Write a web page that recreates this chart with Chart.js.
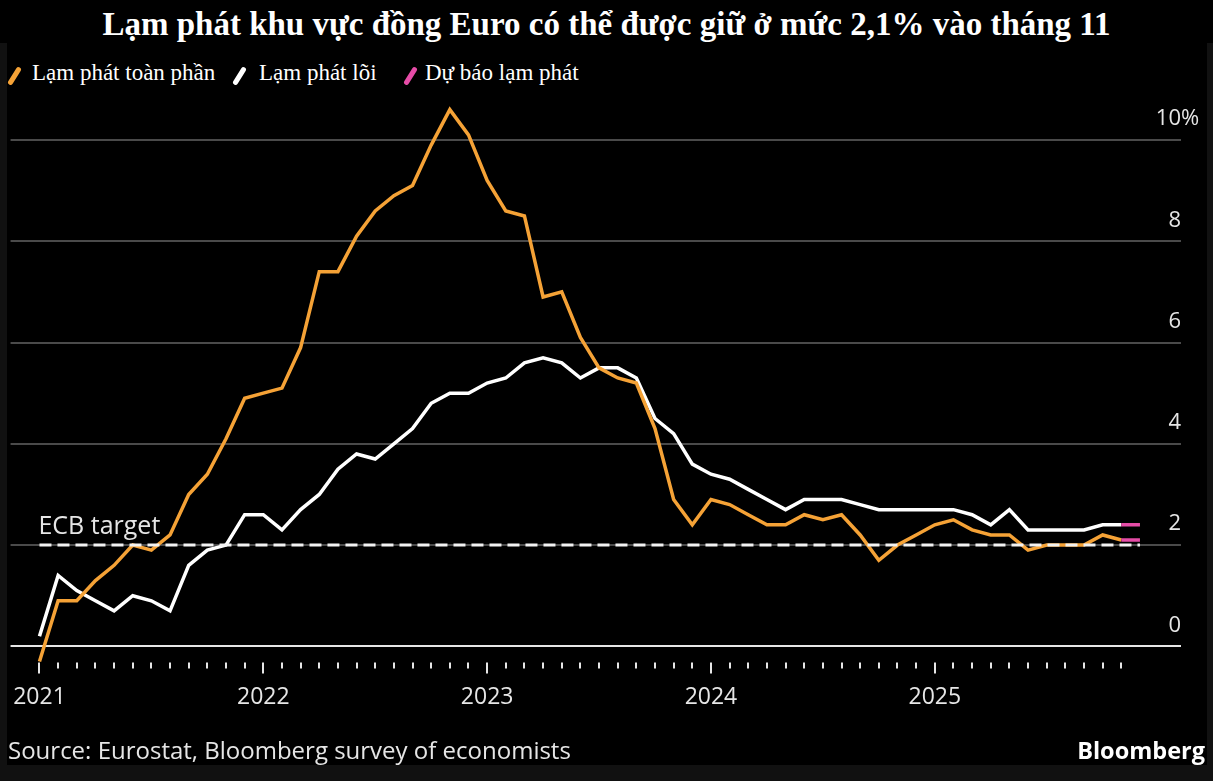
<!DOCTYPE html>
<html>
<head>
<meta charset="utf-8">
<script src="https://cdn.jsdelivr.net/npm/chart.js@4"></script>
<style>
  html, body { margin: 0; padding: 0; }
  body { width: 1213px; height: 781px; background: #111; position: relative; overflow: hidden; }
  #topband { position: absolute; left: 0; top: 0; width: 1213px; height: 43px; background: #000; }
  #panel { position: absolute; left: 7px; top: 43px; width: 1200px; height: 722px; background: #000; }
  #title { position: absolute; left: 0; top: 5px; width: 1213px; margin: 0; text-align: center;
           font: bold 33px/38px "Liberation Serif", serif; color: #fff; }
  .leg { position: absolute; top: 60px; font: 23px/26px "Liberation Serif", serif; color: #fff; white-space: nowrap; }
  .icon { position: absolute; top: 66px; width: 5px; height: 20px; border-radius: 3px; transform: rotate(32deg); }
  #chart { position: absolute; left: 0; top: 0; }
  #source { position: absolute; left: 8px; top: 735px; font: 24px/30px "Open Sans", sans-serif; color: #e6e6e6; }
  #brand { position: absolute; right: 8px; top: 735px; font: bold 23.5px/30px "Open Sans", sans-serif; color: #fff; }
</style>
</head>
<body>
<div id="topband"></div>
<div id="panel"></div>
<h1 id="title">Lạm phát khu vực đồng Euro có thể được giữ ở mức 2,1% vào tháng 11</h1>
<span class="icon" style="left:12px;background:#f5a236"></span>
<span class="leg" style="left:32px">Lạm phát toàn phần</span>
<span class="icon" style="left:237px;background:#fff"></span>
<span class="leg" style="left:259px">Lạm phát lõi</span>
<span class="icon" style="left:408px;background:#e64ca7"></span>
<span class="leg" style="left:425px">Dự báo lạm phát</span>
<canvas id="chart" width="1213" height="781"></canvas>
<div id="source">Source: Eurostat, Bloomberg survey of economists</div>
<div id="brand">Bloomberg</div>

<script>
// monthly points, plotted at month end (Dec 2020 sits on the 2021 tick)
const months = [
  '2020-12',
  '2021-01','2021-02','2021-03','2021-04','2021-05','2021-06','2021-07','2021-08','2021-09','2021-10','2021-11','2021-12',
  '2022-01','2022-02','2022-03','2022-04','2022-05','2022-06','2022-07','2022-08','2022-09','2022-10','2022-11','2022-12',
  '2023-01','2023-02','2023-03','2023-04','2023-05','2023-06','2023-07','2023-08','2023-09','2023-10','2023-11','2023-12',
  '2024-01','2024-02','2024-03','2024-04','2024-05','2024-06','2024-07','2024-08','2024-09','2024-10','2024-11','2024-12',
  '2025-01','2025-02','2025-03','2025-04','2025-05','2025-06','2025-07','2025-08','2025-09','2025-10','2025-11'
];

const headline = [
  -0.3,
  0.9, 0.9, 1.3, 1.6, 2.0, 1.9, 2.2, 3.0, 3.4, 4.1, 4.9, 5.0,
  5.1, 5.9, 7.4, 7.4, 8.1, 8.6, 8.9, 9.1, 9.9, 10.6, 10.1, 9.2,
  8.6, 8.5, 6.9, 7.0, 6.1, 5.5, 5.3, 5.2, 4.3, 2.9, 2.4, 2.9,
  2.8, 2.6, 2.4, 2.4, 2.6, 2.5, 2.6, 2.2, 1.7, 2.0, 2.2, 2.4,
  2.5, 2.3, 2.2, 2.2, 1.9, 2.0, 2.0, 2.0, 2.2, 2.1
];

const core = [
  0.2,
  1.4, 1.1, 0.9, 0.7, 1.0, 0.9, 0.7, 1.6, 1.9, 2.0, 2.6, 2.6,
  2.3, 2.7, 3.0, 3.5, 3.8, 3.7, 4.0, 4.3, 4.8, 5.0, 5.0, 5.2,
  5.3, 5.6, 5.7, 5.6, 5.3, 5.5, 5.5, 5.3, 4.5, 4.2, 3.6, 3.4,
  3.3, 3.1, 2.9, 2.7, 2.9, 2.9, 2.9, 2.8, 2.7, 2.7, 2.7, 2.7,
  2.7, 2.6, 2.4, 2.7, 2.3, 2.3, 2.3, 2.3, 2.4, 2.4
];

// forecast: last actual month -> November
const forecastMonths = ['2025-10', '2025-11'];
const headlineForecast = [2.1, 2.1];
const coreForecast = [2.4, 2.4];

const ecbTarget = 2.0;
const yTicks = [0, 2, 4, 6, 8, 10];
const yearLabels = ['2021', '2022', '2023', '2024', '2025'];

const ORANGE = '#f5a236';
const PINK = '#e64ca7';

function series(vals, names) {
  return vals.map((v, i) => ({ x: months.indexOf(names ? names[i] : months[i]), y: v }));
}

// year label sits where the previous December point is
const yearPos = yearLabels.map(y => months.indexOf((+y - 1) + '-12'));

const extras = {
  id: 'extras',
  afterDraw(chart) {
    const { ctx, chartArea, scales: { x, y } } = chart;
    ctx.save();
    // month tick marks, longer on year starts
    ctx.strokeStyle = '#e6e6e6';
    ctx.lineWidth = 2;
    for (let i = 0; i < headline.length; i++) {
      const px = Math.round(x.getPixelForValue(i));
      const len = yearPos.includes(i) ? 11 : 6;
      ctx.beginPath();
      ctx.moveTo(px, chartArea.bottom);
      ctx.lineTo(px, chartArea.bottom + len);
      ctx.stroke();
    }
    // '%' after the top tick label
    ctx.fillStyle = '#e6e6e6';
    ctx.font = '22px "Open Sans"';
    ctx.textBaseline = 'middle';
    ctx.textAlign = 'left';
    ctx.fillText('%', chartArea.right, y.getPixelForValue(10) - 21);
    // ECB target label
    ctx.font = '25px "Open Sans"';
    ctx.fillText('ECB target', x.getPixelForValue(0) - 1, y.getPixelForValue(ecbTarget) - 18);
    ctx.restore();
  }
};

new Chart(document.getElementById('chart'), {
  type: 'line',
  data: {
    datasets: [
      {
        label: 'ECB target',
        data: [{ x: 0, y: ecbTarget }, { x: months.length - 1, y: ecbTarget }],
        borderColor: '#f2f2f2',
        borderWidth: 3,
        borderDash: [12, 6]
      },
      { label: 'Dự báo lạm phát', data: series(coreForecast, forecastMonths), borderColor: PINK, borderWidth: 3.5 },
      { label: 'Dự báo lạm phát', data: series(headlineForecast, forecastMonths), borderColor: PINK, borderWidth: 3.5 },
      { label: 'Lạm phát toàn phần', data: series(headline), borderColor: ORANGE, borderWidth: 3.5 },
      { label: 'Lạm phát lõi', data: series(core), borderColor: '#ffffff', borderWidth: 3.5 }
    ]
  },
  options: {
    responsive: false,
    animation: false,
    devicePixelRatio: 1,
    layout: { padding: { left: 7, right: 32, top: 100, bottom: 57 } },
    elements: { point: { radius: 0 }, line: { tension: 0 } },
    plugins: { legend: { display: false }, tooltip: { enabled: false } },
    scales: {
      x: {
        type: 'linear',
        min: -1.55,
        max: 61.2,
        afterBuildTicks: axis => { axis.ticks = yearPos.map(v => ({ value: v })); },
        grid: { display: false },
        border: { display: false },
        ticks: {
          autoSkip: false,
          maxRotation: 0,
          padding: 13,
          color: '#e6e6e6',
          font: { family: 'Open Sans', size: 23 },
          callback: v => yearLabels[yearPos.indexOf(v)]
        }
      },
      y: {
        position: 'right',
        min: -0.317,
        max: 10.79,
        afterBuildTicks: axis => { axis.ticks = yTicks.map(v => ({ value: v })); },
        grid: {
          drawTicks: false,
          lineWidth: 2,
          color: c => c.tick && c.tick.value === 0 ? '#e6e6e6' : '#4a4a4a'
        },
        border: { display: false },
        ticks: {
          mirror: true,
          padding: 0,
          labelOffset: -21,
          color: '#e6e6e6',
          font: { family: 'Open Sans', size: 22 }
        }
      }
    }
  },
  plugins: [extras]
});
</script>
</body>
</html>
